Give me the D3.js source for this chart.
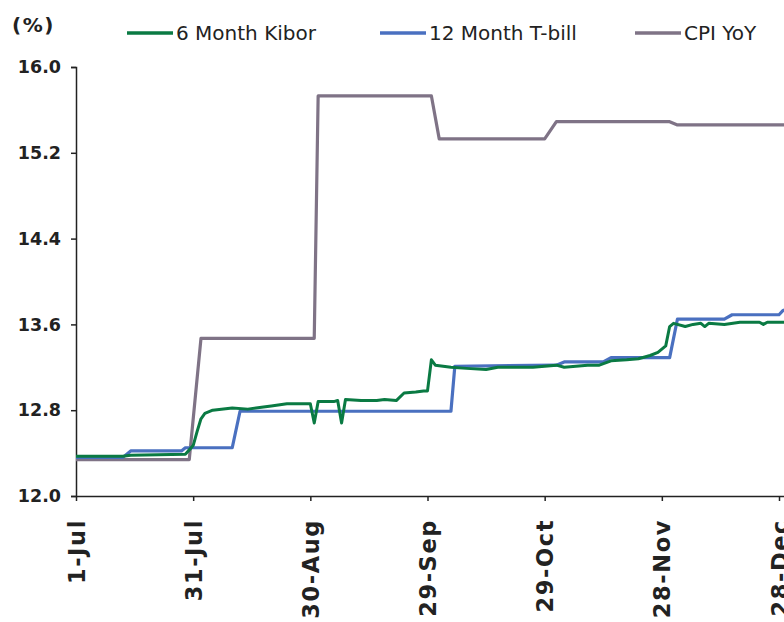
<!DOCTYPE html>
<html>
<head>
<meta charset="utf-8">
<script src="https://cdn.jsdelivr.net/npm/d3@7"></script>
<style>
  body { margin: 0; background: #fff; }
  svg { display: block; font-family: "DejaVu Sans", Verdana, sans-serif; }
  .y-axis text { font-family: "DejaVu Sans", Verdana, sans-serif; font-size: 17.5px; font-weight: bold; fill: #222; }
  .x-axis text { font-family: "DejaVu Sans", Verdana, sans-serif; font-size: 22.5px; font-weight: bold; fill: #222; letter-spacing: 1.6px; }
  .domain, .tick line { stroke: #222; stroke-width: 1.5; }
</style>
</head>
<body>
<div id="chart"></div>
<script>
// series names
const seriesNames = ["6 Month Kibor", "12 Month T-bill", "CPI YoY"];

// 6 month Kibor (daily)
const kiborDates = ["07-01","07-13","07-15","07-29","07-30","07-31","08-01","08-02","08-03","08-05",
  "08-10","08-14","08-18","08-20","08-24","08-28","08-30","08-31","09-01","09-05",
  "09-06","09-07","09-08","09-12","09-16","09-18","09-21","09-23","09-26","09-28",
  "09-29","09-30","10-01","10-03","10-05","10-09","10-14","10-17","10-21","10-26",
  "10-29","11-01","11-03","11-06","11-09","11-12","11-15","11-19","11-22","11-25",
  "11-27","11-29","11-30","12-01","12-04","12-06","12-08","12-09","12-10","12-14",
  "12-18","12-23","12-24","12-25","12-31"];
const kiborValues = [12.37,12.37,12.38,12.39,12.43,12.47,12.60,12.72,12.77,12.80,
  12.82,12.81,12.83,12.84,12.86,12.86,12.86,12.68,12.88,12.88,
  12.89,12.68,12.90,12.89,12.89,12.90,12.89,12.96,12.97,12.98,
  12.98,13.27,13.22,13.21,13.20,13.19,13.18,13.20,13.20,13.20,
  13.21,13.22,13.20,13.21,13.22,13.22,13.26,13.27,13.28,13.31,
  13.34,13.40,13.58,13.61,13.58,13.60,13.61,13.58,13.61,13.60,
  13.62,13.62,13.60,13.62,13.62];

// 12 month T-bill
const tbillDates = ["07-01","07-13","07-15","07-28","07-29","08-10","08-12","10-05","10-06","11-01",
  "11-03","11-13","11-15","11-30","12-02","12-14","12-16","12-28","12-29","12-31"];
const tbillValues = [12.36,12.36,12.42,12.42,12.45,12.45,12.79,12.79,13.21,13.22,
  13.25,13.25,13.29,13.29,13.65,13.65,13.69,13.69,13.73,13.75];

// CPI YoY
const cpiDates = ["07-01","07-30","08-02","08-31","09-01","09-30","10-02","10-29","11-01","11-30","12-02","12-31"];
const cpiValues = [12.34,12.34,13.47,13.47,15.73,15.73,15.33,15.33,15.49,15.49,15.46,15.46];

// axis ticks
const xTickDates = ["07-01","07-31","08-30","09-29","10-29","11-28","12-28"];
const yTicks = [12.0, 12.8, 13.6, 14.4, 15.2, 16.0];

let height = 622,
    width = 784,
    margin = ({ top: 67, right: 5, bottom: 126, left: 76 });

const svg = d3.select("#chart")
  .append("svg")
  .attr("width", width)
  .attr("height", height);

let parse = d3.timeParse("%Y-%m-%d");
let toDate = s => parse("2018-" + s);

let x = d3.scaleTime()
  .domain([toDate("07-01"), toDate("12-28")])
  .range([margin.left, 779]);

let y = d3.scaleLinear()
  .domain([12, 16])
  .range([height - margin.bottom, margin.top]);

// extend the x axis past the last tick, like the original
let xAxisScale = x.copy().domain([toDate("07-01"), toDate("12-31")])
  .range([margin.left, x(toDate("12-31"))]);

svg.append("g")
  .attr("class", "x-axis")
  .attr("transform", `translate(0,${y(12)})`)
  .call(d3.axisBottom(xAxisScale)
    .tickValues(xTickDates.map(toDate))
    .tickFormat(d3.timeFormat("%-d-%b"))
    .tickSize(5)
    .tickSizeOuter(0))
  .selectAll("text")
  .attr("transform", "rotate(-90)")
  .attr("x", -23)
  .attr("y", 0)
  .attr("dy", "0.36em")
  .style("text-anchor", "end");

svg.append("g")
  .attr("class", "y-axis")
  .attr("transform", `translate(${margin.left},0)`)
  .call(d3.axisLeft(y)
    .tickValues(yTicks)
    .tickFormat(d3.format(".1f"))
    .tickSize(5)
    .tickPadding(10));

svg.append("text")
  .attr("x", 12)
  .attr("y", 32)
  .style("font-size", "20px")
  .style("font-weight", "bold")
  .style("letter-spacing", "1.5px")
  .attr("fill", "#222")
  .text("(%)");

let line = d3.line()
  .x(d => x(d.date))
  .y(d => y(d.value));

let colors = d3.scaleOrdinal().domain(seriesNames).range(["#0a7a43", "#4a70c0", "#7f7386"]);

let series = [
  { name: seriesNames[2], dates: cpiDates, values: cpiValues, w: 3.2 },
  { name: seriesNames[1], dates: tbillDates, values: tbillValues, w: 3.2 },
  { name: seriesNames[0], dates: kiborDates, values: kiborValues, w: 3 }
];

for (let s of series) {
  let pts = s.dates.map((d, i) => ({ date: toDate(d), value: s.values[i] }));
  svg.append("path")
    .datum(pts)
    .attr("fill", "none")
    .attr("stroke", colors(s.name))
    .attr("stroke-width", s.w)
    .attr("stroke-linejoin", "round")
    .attr("d", line);
}

// legend
let legendX = [127, 380, 635];
seriesNames.forEach((name, i) => {
  let g = svg.append("g").attr("transform", `translate(${legendX[i]},33)`);
  g.append("line")
    .attr("x1", 0).attr("x2", 46)
    .attr("stroke", colors(name))
    .attr("stroke-width", 3.5);
  g.append("text")
    .attr("x", 49)
    .attr("y", 7)
    .style("font-size", "20px")
    .attr("fill", "#222")
    .text(name);
});
</script>
</body>
</html>
